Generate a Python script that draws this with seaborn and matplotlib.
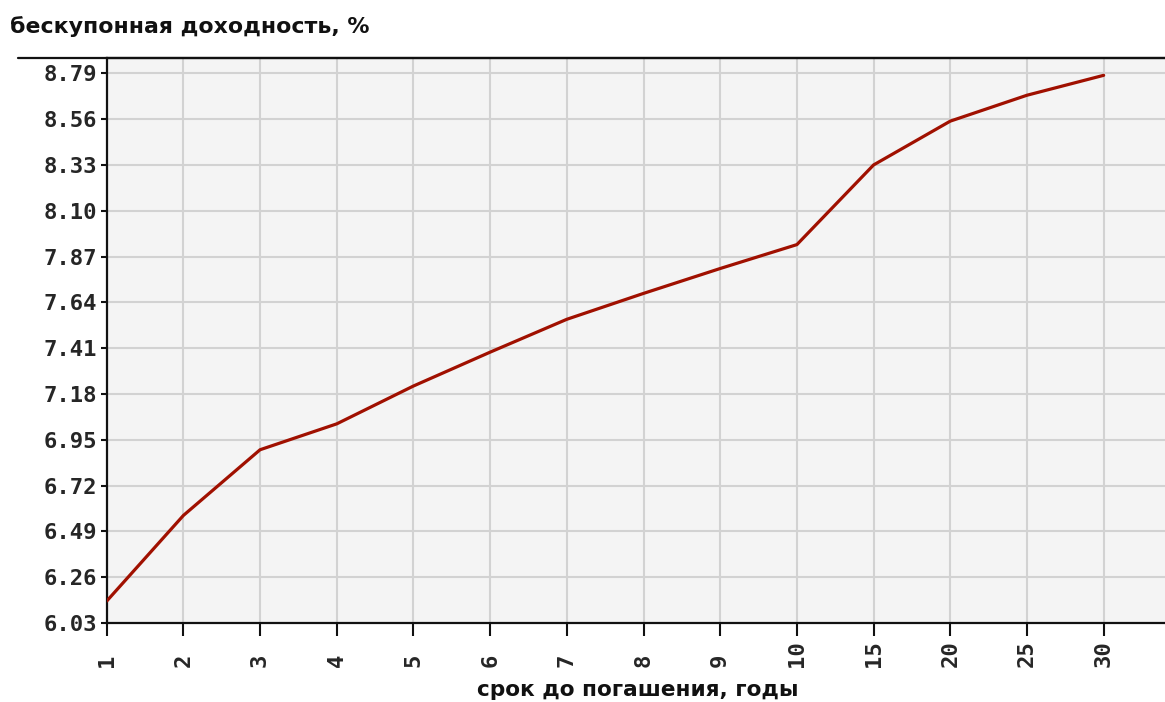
import matplotlib
matplotlib.use("Agg")
import matplotlib.pyplot as plt
import seaborn as sns
import pandas as pd
from matplotlib.lines import Line2D

# ---- data ----
maturities = ["1", "2", "3", "4", "5", "6", "7", "8", "9", "10", "15", "20", "25", "30"]
yields = [6.14, 6.57, 6.90, 7.03, 7.22, 7.39, 7.555, 7.685, 7.81, 7.93, 8.33, 8.55, 8.68, 8.78]
ytick_values = [6.03, 6.26, 6.49, 6.72, 6.95, 7.18, 7.41, 7.64, 7.87, 8.10, 8.33, 8.56, 8.79]

title_text = "бескупонная доходность, %"
xlabel_text = "срок до погашения, годы"

df = pd.DataFrame({"maturity": maturities, "yield": yields})

sns.set_theme(style="white")
plt.rcParams["font.family"] = ["DejaVu Sans"]

W, H = 1165, 702
fig = plt.figure(figsize=(W / 100, H / 100), dpi=100)
fig.patch.set_facecolor("white")

left, right, top, bottom = 106.7 / W, 1.0, 1 - 58 / H, 1 - 623 / H
ax = fig.add_axes([left, bottom, right - left, top - bottom])
ax.set_facecolor("#f4f4f4")

sns.lineplot(data=df, x="maturity", y="yield", sort=False, ax=ax,
             color="#a01000", linewidth=2.3, zorder=5)

ax.set_xlim(0, 13.8)
ax.set_ylim(6.03, 8.867)
ax.set_yticks(ytick_values)
ax.set_yticklabels([f"{v:.2f}" for v in ytick_values],
                   fontfamily="DejaVu Sans Mono", fontweight="bold", fontsize=16)
ax.set_xticks(range(len(maturities)))
ax.set_xticklabels(maturities, rotation=90, rotation_mode="anchor",
                   ha="left", va="center",
                   fontfamily="DejaVu Sans Mono", fontweight="bold", fontsize=16)

ax.grid(True, color="#d2d2d2", linewidth=1.5, zorder=0)
ax.set_axisbelow(True)

for s in ["left", "bottom", "top"]:
    ax.spines[s].set_visible(True)
    ax.spines[s].set_color("#111111")
    ax.spines[s].set_linewidth(1.6)
ax.spines["right"].set_visible(False)

ax.tick_params(axis="y", direction="out", length=4, width=1.5, color="#111111",
               pad=3, left=True)
ax.tick_params(axis="x", direction="out", length=9, width=1.5, color="#111111",
               pad=22.5, bottom=True)

ax.set_xlabel("")
ax.set_ylabel("")

# top border line extending to the left
fig.add_artist(Line2D([18 / W, 1.0], [top, top], transform=fig.transFigure,
                      color="#111111", linewidth=1.6))

fig.text(10 / W, 1 - 27 / H, title_text, ha="left", va="center",
         fontsize=15.8, fontweight="bold", color="#111111")
fig.text(638 / W, 1 - 690 / H, xlabel_text, ha="center", va="center",
         fontsize=15.6, fontweight="bold", color="#111111")

fig.savefig("out.png", dpi=100)
